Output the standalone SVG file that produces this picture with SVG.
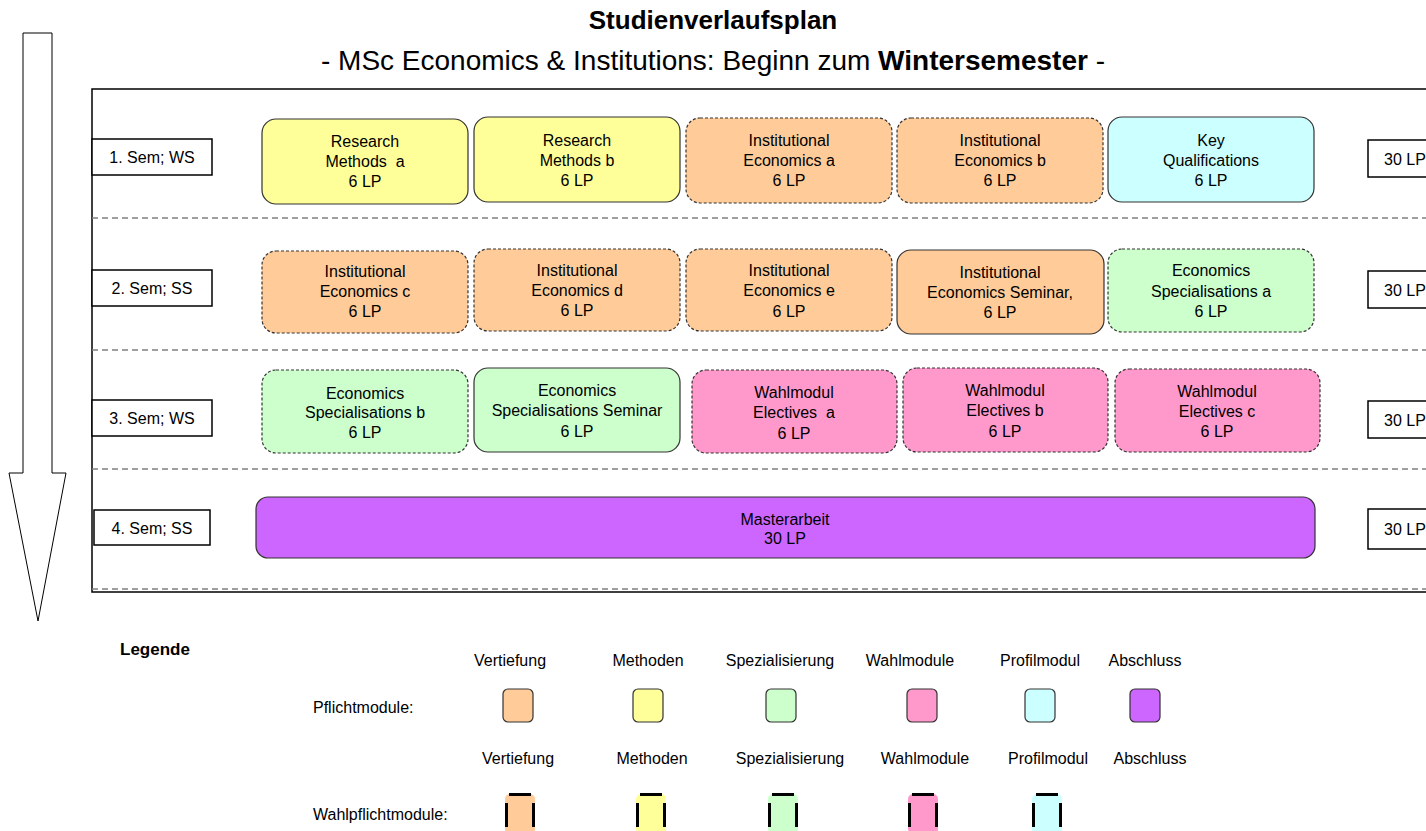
<svg xmlns="http://www.w3.org/2000/svg" width="1426" height="831" viewBox="0 0 1426 831">
<style>
text{font-family:"Liberation Sans",Arial,sans-serif;fill:#000}
.t{font-size:16px;text-anchor:middle}
.lg{font-size:16px;text-anchor:middle}
.m{stroke:#333;stroke-width:1.2}
.d{stroke:#333;stroke-width:1.2;stroke-dasharray:3 2}
.or{fill:#FFCC99}.ye{fill:#FFFF99}.gr{fill:#CCFFCC}.pk{fill:#FF99CC}.cy{fill:#CCFFFF}.pu{fill:#CC66FF}
.sep{stroke:#808080;stroke-width:1.5;stroke-dasharray:6 4;fill:none}
.lbl{fill:#fff;stroke:#000;stroke-width:1.5}
.bar{stroke:#000;stroke-width:3}
</style>
<rect width="1426" height="831" fill="#fff"/>
<g id="title">
<text x="713" y="29" font-size="26" font-weight="bold" text-anchor="middle">Studienverlaufsplan</text>
<text x="713" y="70" font-size="28" text-anchor="middle">- MSc Economics &amp; Institutions: Beginn zum <tspan font-weight="bold">Wintersemester</tspan> -</text>
</g>
<g id="arrow"><polygon points="23,33 52,33 52,473 66,473 38,621 9,473 23,473" fill="#fff" stroke="#000" stroke-width="1"/></g>
<g id="frame">
<rect x="92" y="89" width="1340" height="503" fill="none" stroke="#000" stroke-width="1.5"/>
</g>
<g id="connectors">
<line class="sep" x1="92" y1="218" x2="1426" y2="218"/>
<line class="sep" x1="92" y1="350" x2="1426" y2="350"/>
<line class="sep" x1="92" y1="469" x2="1426" y2="469"/>
<line class="sep" x1="92" y1="589" x2="1426" y2="589"/>
</g>
<g id="sem1"><rect class="lbl" x="92" y="139" width="120" height="36"/><text class="t" x="152" y="163">1. Sem; WS</text></g>
<g id="sem2"><rect class="lbl" x="92" y="270" width="120" height="36"/><text class="t" x="152" y="294">2. Sem; SS</text></g>
<g id="sem3"><rect class="lbl" x="92" y="400" width="120" height="36"/><text class="t" x="152" y="424">3. Sem; WS</text></g>
<g id="sem4"><rect class="lbl" x="94" y="510" width="116" height="35"/><text class="t" x="152" y="534">4. Sem; SS</text></g>
<g id="lp1"><rect class="lbl" x="1368" y="140" width="70" height="37"/><text x="1384" y="165" font-size="16">30 LP</text></g>
<g id="lp2"><rect class="lbl" x="1368" y="271" width="70" height="37"/><text x="1384" y="296" font-size="16">30 LP</text></g>
<g id="lp3"><rect class="lbl" x="1368" y="401" width="70" height="37"/><text x="1384" y="426" font-size="16">30 LP</text></g>
<g id="lp4"><rect class="lbl" x="1368" y="509" width="70" height="40"/><text x="1384" y="535" font-size="16">30 LP</text></g>
<g id="rm-a"><rect class="m ye" x="262" y="119" width="206" height="85" rx="14"/><text class="t" x="365" y="147">Research</text><text class="t" x="365" y="167" xml:space="preserve">Methods  a</text><text class="t" x="365" y="187">6 LP</text></g>
<g id="rm-b"><rect class="m ye" x="474" y="117" width="206" height="85" rx="14"/><text class="t" x="577" y="146">Research</text><text class="t" x="577" y="166">Methods b</text><text class="t" x="577" y="186">6 LP</text></g>
<g id="ie-a"><rect class="d or" x="686" y="118" width="206" height="85" rx="14"/><text class="t" x="789" y="146">Institutional</text><text class="t" x="789" y="166">Economics a</text><text class="t" x="789" y="186">6 LP</text></g>
<g id="ie-b"><rect class="d or" x="897" y="118" width="206" height="85" rx="14"/><text class="t" x="1000" y="146">Institutional</text><text class="t" x="1000" y="166">Economics b</text><text class="t" x="1000" y="186">6 LP</text></g>
<g id="kq"><rect class="m cy" x="1108" y="117" width="206" height="85" rx="14"/><text class="t" x="1211" y="146">Key</text><text class="t" x="1211" y="166">Qualifications</text><text class="t" x="1211" y="186">6 LP</text></g>
<g id="ie-c"><rect class="d or" x="262" y="251" width="206" height="82" rx="14"/><text class="t" x="365" y="277">Institutional</text><text class="t" x="365" y="297">Economics c</text><text class="t" x="365" y="317">6 LP</text></g>
<g id="ie-d"><rect class="d or" x="474" y="249" width="206" height="82" rx="14"/><text class="t" x="577" y="276">Institutional</text><text class="t" x="577" y="296">Economics d</text><text class="t" x="577" y="316">6 LP</text></g>
<g id="ie-e"><rect class="d or" x="686" y="249" width="206" height="82" rx="14"/><text class="t" x="789" y="276">Institutional</text><text class="t" x="789" y="296">Economics e</text><text class="t" x="789" y="317">6 LP</text></g>
<g id="ie-sem"><rect class="m or" x="897" y="250" width="207" height="84" rx="14"/><text class="t" x="1000" y="278">Institutional</text><text class="t" x="1000" y="298">Economics Seminar,</text><text class="t" x="1000" y="318">6 LP</text></g>
<g id="es-a"><rect class="d gr" x="1108" y="249" width="206" height="83" rx="14"/><text class="t" x="1211" y="276">Economics</text><text class="t" x="1211" y="297">Specialisations a</text><text class="t" x="1211" y="317">6 LP</text></g>
<g id="es-b"><rect class="d gr" x="262" y="370" width="206" height="83" rx="14"/><text class="t" x="365" y="399">Economics</text><text class="t" x="365" y="418">Specialisations b</text><text class="t" x="365" y="438">6 LP</text></g>
<g id="es-sem"><rect class="m gr" x="474" y="368" width="206" height="84" rx="14"/><text class="t" x="577" y="396">Economics</text><text class="t" x="577" y="416">Specialisations Seminar</text><text class="t" x="577" y="437">6 LP</text></g>
<g id="wm-a"><rect class="d pk" x="692" y="370" width="205" height="83" rx="14"/><text class="t" x="794" y="398">Wahlmodul</text><text class="t" x="794" y="418" xml:space="preserve">Electives  a</text><text class="t" x="794" y="439">6 LP</text></g>
<g id="wm-b"><rect class="d pk" x="903" y="368" width="205" height="84" rx="14"/><text class="t" x="1005" y="396">Wahlmodul</text><text class="t" x="1005" y="416">Electives b</text><text class="t" x="1005" y="437">6 LP</text></g>
<g id="wm-c"><rect class="d pk" x="1115" y="369" width="205" height="83" rx="14"/><text class="t" x="1217" y="397">Wahlmodul</text><text class="t" x="1217" y="417">Electives c</text><text class="t" x="1217" y="437">6 LP</text></g>
<g id="ma"><rect class="m pu" x="256" y="497" width="1059" height="61" rx="12"/><text class="t" x="785" y="525">Masterarbeit</text><text class="t" x="785" y="544">30 LP</text></g>
<g id="legend">
<text x="120" y="655" font-size="17" font-weight="bold">Legende</text>
<text class="lg" x="510" y="666">Vertiefung</text>
<text class="lg" x="648" y="666">Methoden</text>
<text class="lg" x="780" y="666">Spezialisierung</text>
<text class="lg" x="910" y="666">Wahlmodule</text>
<text class="lg" x="1040" y="666">Profilmodul</text>
<text class="lg" x="1145" y="666">Abschluss</text>
<text x="313" y="713" font-size="16">Pflichtmodule:</text>
<rect class="m or" x="503" y="689" width="30" height="33" rx="5"/>
<rect class="m ye" x="633" y="689" width="30" height="33" rx="5"/>
<rect class="m gr" x="766" y="689" width="30" height="33" rx="5"/>
<rect class="m pk" x="907" y="689" width="30" height="33" rx="5"/>
<rect class="m cy" x="1025" y="689" width="30" height="33" rx="5"/>
<rect class="m pu" x="1130" y="689" width="30" height="33" rx="5"/>
<text class="lg" x="518" y="764">Vertiefung</text>
<text class="lg" x="652" y="764">Methoden</text>
<text class="lg" x="790" y="764">Spezialisierung</text>
<text class="lg" x="925" y="764">Wahlmodule</text>
<text class="lg" x="1048" y="764">Profilmodul</text>
<text class="lg" x="1150" y="764">Abschluss</text>
<text x="313" y="820" font-size="16">Wahlpflichtmodule:</text>
<g>
<rect class="or" x="505" y="794" width="30" height="40" rx="5"/><path class="bar" d="M509,794.5h22M506.5,803v24M533.5,803v24"/>
<rect class="ye" x="636" y="794" width="30" height="40" rx="5"/><path class="bar" d="M640,794.5h22M637.5,803v24M664.5,803v24"/>
<rect class="gr" x="768" y="794" width="30" height="40" rx="5"/><path class="bar" d="M772,794.5h22M769.5,803v24M796.5,803v24"/>
<rect class="pk" x="908" y="794" width="30" height="40" rx="5"/><path class="bar" d="M912,794.5h22M909.5,803v24M936.5,803v24"/>
<rect class="cy" x="1032" y="794" width="30" height="40" rx="5"/><path class="bar" d="M1036,794.5h22M1033.5,803v24M1060.5,803v24"/>
</g>
</g>
</svg>
